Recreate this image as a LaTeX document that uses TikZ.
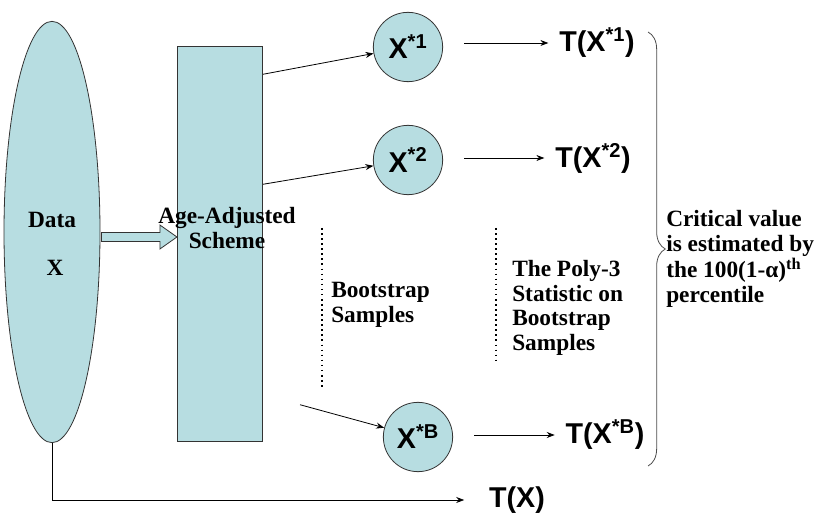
\documentclass[tikz,border=0pt]{standalone}
\usepackage{fontspec}
\setmainfont{Liberation Serif}
\setsansfont{Liberation Sans}
\usetikzlibrary{calc,decorations.pathreplacing,positioning,shapes.geometric,arrows.meta}
\definecolor{bootfill}{RGB}{183,221,225}
\newcommand{\starsup}[1]{\textsuperscript{*#1}}

\begin{document}
\begin{tikzpicture}[x=0.75pt, y=-0.75pt, >={Stealth[length=6pt,width=4.5pt]},
  boot/.style={draw=black!80, fill=bootfill, line width=0.6pt},
  sample/.style={boot, circle, minimum size=52pt, inner sep=0pt, font=\sffamily\bfseries\fontsize{21.5}{24}\selectfont},
  stat/.style={font=\sffamily\bfseries\fontsize{21.5}{24}\selectfont, inner sep=2pt},
  note/.style={font=\bfseries\fontsize{17.5}{18.5}\selectfont, align=left, inner sep=0pt},
  conn/.style={->, line width=0.6pt},
  dots/.style={line width=1.3pt, dash pattern=on 1.2pt off 2.6pt}]
\useasboundingbox (0,0) rectangle (826,520);
\node[boot, ellipse, minimum width=72pt, minimum height=316pt, inner sep=0pt] (data) at (52,232) {};
\node[note] (datalbl) at (52,220) {Data};
\node[note] (datavar) at (55,268) {X};
\node[boot, rectangle, minimum width=64pt, minimum height=296pt, inner sep=0pt] (scheme) at (220,244) {};
\node[note, align=center] (schemelbl) at (227,228) {Age-Adjusted\\Scheme};
\node[sample] (s1) at (408,47) {X\starsup{1}};
\node[sample] (s2) at (408,160) {X\starsup{2}};
\node[sample] (sB) at (418,437) {X\starsup{B}};
\node[stat] (t1) at (597,43) {T(X\starsup{1})};
\node[stat] (t2) at (593,158) {T(X\starsup{2})};
\node[stat] (tB) at (605,435) {T(X\starsup{B})};
\node[stat] (tx) at (517,500) {T(X)};
\node[note, anchor=west] (bootlbl) at (331,305) {Bootstrap\\Samples};
\node[note, anchor=west] (polylbl) at (512,308) {The Poly-3\\Statistic on\\Bootstrap\\Samples};
\node[note, anchor=west] (critlbl) at (666,259) {Critical value\\is estimated by\\the 100(1-α)\textsuperscript{th}\\percentile};
% block arrow into the scheme
\coordinate (a0) at ($(data.east)+(1,5)$);
\coordinate (a1) at ($(scheme.west)+(0,-7)$);
\draw[boot] ($(a0)+(0,-4.5)$) -- ($(a1)+(-17,-4.5)$) -- ($(a1)+(-17,-12)$) -- (a1)
  -- ($(a1)+(-17,12)$) -- ($(a1)+(-17,4.5)$) -- ($(a0)+(0,4.5)$) -- cycle;
\draw[conn] ($(scheme.north east)+(0,28)$) -- (s1);
\draw[conn] ($(scheme.north east)+(0,138)$) -- (s2);
\draw[conn] ($(scheme.south east)+(37,-37)$) -- (sB);
\draw[conn, shorten <=16pt, shorten >=6pt] (s1.east |- t1) -- (t1.west);
\draw[conn, shorten <=16pt, shorten >=6pt] (s2.east |- t2) -- (t2.west);
\draw[conn, shorten <=16pt, shorten >=6pt] (sB.east |- tB) -- (tB.west);
\draw[conn] (data.south) |- ($(tx.west)+(-22,0)$);
\draw[dots] (322,228) -- (322,387);
\draw[dots] (496,228) -- (496,360);
\draw[decorate, decoration={brace, amplitude=13pt}, draw=black!70, line width=0.6pt] (648,32) -- (648,466);
\end{tikzpicture}
\end{document}
